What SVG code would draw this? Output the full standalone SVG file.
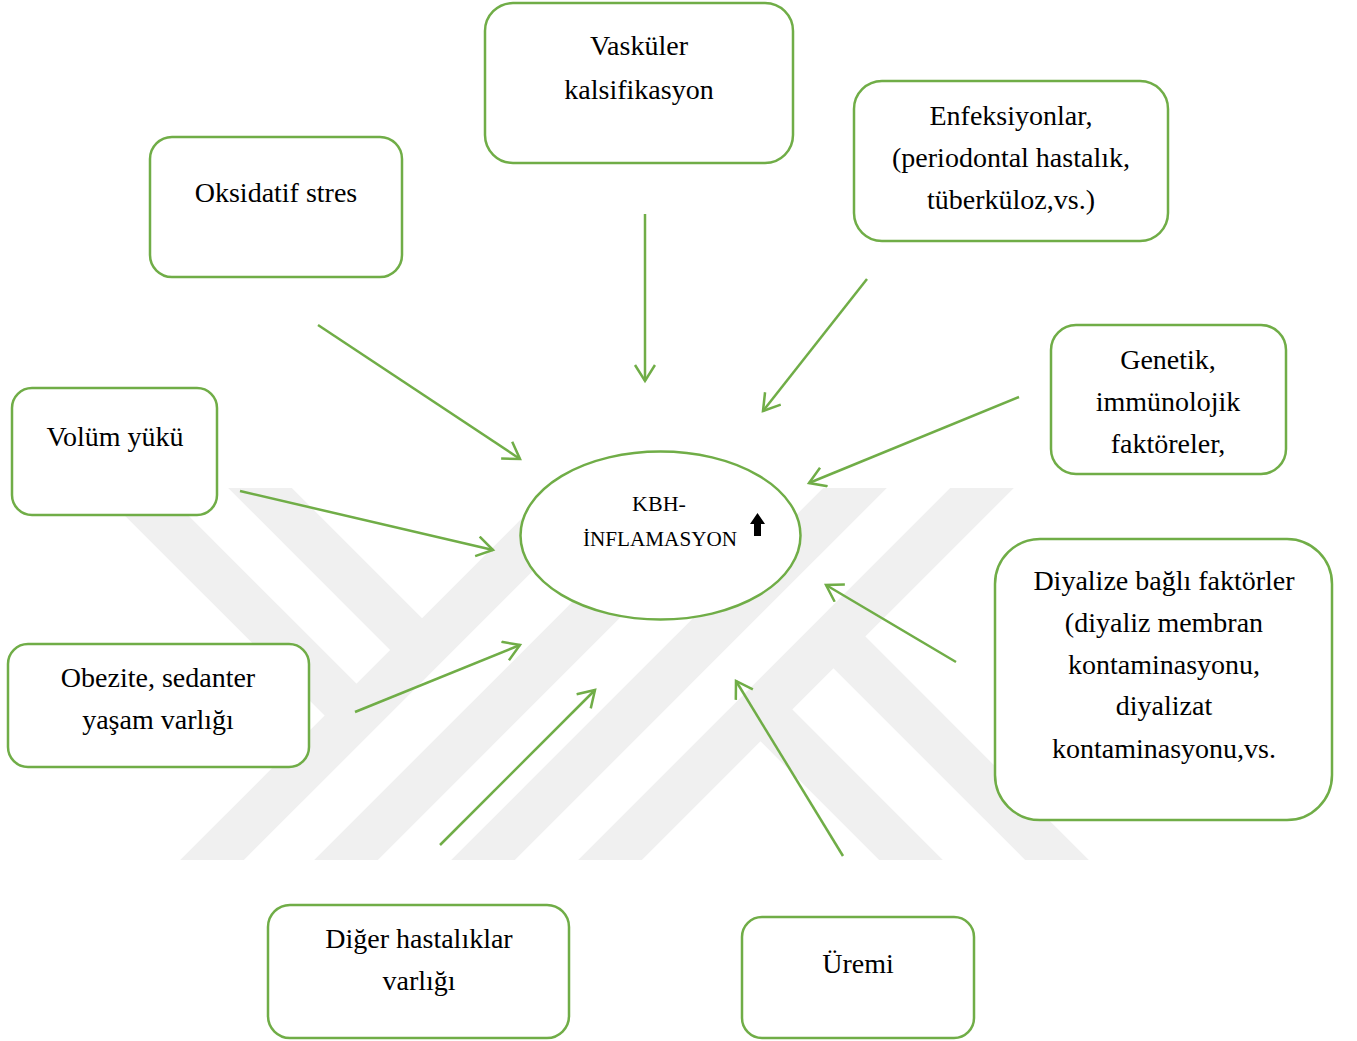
<svg xmlns="http://www.w3.org/2000/svg" width="1357" height="1041" viewBox="0 0 1357 1041">
<style>
.box{fill:#ffffff;stroke:#70ad47;stroke-width:2.5}
.t{font-family:"Liberation Serif","Times New Roman",serif;font-size:28px;fill:#000;text-anchor:middle}
.c{font-family:"Liberation Serif","Times New Roman",serif;font-size:22px;fill:#000;text-anchor:middle}
.con{stroke:#70ad47;stroke-width:2.5;fill:none;marker-end:url(#ah)}
.wm{stroke:#f0f0f0;stroke-width:45;fill:none;stroke-linecap:butt}
</style>
<defs>
<marker id="ah" markerUnits="userSpaceOnUse" markerWidth="24" markerHeight="26" refX="17" refY="11" orient="auto" viewBox="0 0 24 26">
<path d="M1,1 L17,11 L1,21" fill="none" stroke="#70ad47" stroke-width="2.5"/>
</marker>
<clipPath id="wmclip"><rect x="0" y="488" width="1357" height="372"/></clipPath>
</defs>
<rect width="1357" height="1041" fill="#ffffff"/>
<g id="watermark" clip-path="url(#wmclip)">
<line class="wm" x1="99" y1="458" x2="356" y2="715"/>
<line class="wm" x1="232" y1="460" x2="422" y2="650"/>
<line class="wm" x1="632" y1="440" x2="172" y2="900"/>
<line class="wm" x1="766" y1="440" x2="306" y2="900"/>
<line class="wm" x1="903" y1="440" x2="443" y2="900"/>
<line class="wm" x1="1030" y1="440" x2="570" y2="900"/>
<line class="wm" x1="760.5" y1="709.5" x2="951" y2="900"/>
<line class="wm" x1="833.5" y1="636.5" x2="1097" y2="900"/>
</g>
<g id="connectors">
<line class="con" x1="318" y1="325" x2="520" y2="459"/>
<line class="con" x1="645" y1="214" x2="645" y2="381"/>
<line class="con" x1="867" y1="279" x2="763" y2="411"/>
<line class="con" x1="1019" y1="397" x2="809" y2="483"/>
<line class="con" x1="240" y1="491" x2="493" y2="550"/>
<line class="con" x1="355" y1="712" x2="520" y2="645"/>
<line class="con" x1="440" y1="845" x2="595" y2="690"/>
<line class="con" x1="843" y1="856" x2="736" y2="681"/>
<line class="con" x1="956" y1="662" x2="826" y2="585"/>
</g>
<g id="center">
<ellipse class="box" cx="660.5" cy="535.5" rx="140" ry="84"/>
<text class="c" x="659" y="511">KBH-</text>
<text class="c" x="660" y="546" textLength="154" lengthAdjust="spacingAndGlyphs">İNFLAMASYON</text>
<polygon points="757.5,513 765,524 761,524 761,536 754,536 754,524 750,524" fill="#000"/>
</g>
<g id="oksidatif">
<rect class="box" x="150" y="137" width="252" height="140" rx="22"/>
<text class="t" x="276" y="202">Oksidatif stres</text>
</g>
<g id="vaskuler">
<rect class="box" x="485" y="3" width="308" height="160" rx="28"/>
<text class="t" x="639" y="55">Vasküler</text>
<text class="t" x="639" y="99">kalsifikasyon</text>
</g>
<g id="enfeksiyon">
<rect class="box" x="854" y="81" width="314" height="160" rx="28"/>
<text class="t" x="1011" y="125">Enfeksiyonlar,</text>
<text class="t" x="1011" y="167">(periodontal hastalık,</text>
<text class="t" x="1011" y="209">tüberküloz,vs.)</text>
</g>
<g id="genetik">
<rect class="box" x="1051" y="325" width="235" height="149" rx="25"/>
<text class="t" x="1168" y="369">Genetik,</text>
<text class="t" x="1168" y="411">immünolojik</text>
<text class="t" x="1168" y="453">faktöreler,</text>
</g>
<g id="volum">
<rect class="box" x="12" y="388" width="205" height="127" rx="20"/>
<text class="t" x="115" y="446">Volüm yükü</text>
</g>
<g id="obezite">
<rect class="box" x="8" y="644" width="301" height="123" rx="20"/>
<text class="t" x="158" y="687">Obezite, sedanter</text>
<text class="t" x="158" y="729">yaşam varlığı</text>
</g>
<g id="diyaliz">
<rect class="box" x="995" y="539" width="337" height="281" rx="45"/>
<text class="t" x="1164" y="590">Diyalize bağlı faktörler</text>
<text class="t" x="1164" y="632">(diyaliz membran</text>
<text class="t" x="1164" y="674">kontaminasyonu,</text>
<text class="t" x="1164" y="715">diyalizat</text>
<text class="t" x="1164" y="758">kontaminasyonu,vs.</text>
</g>
<g id="diger">
<rect class="box" x="268" y="905" width="301" height="133" rx="22"/>
<text class="t" x="419" y="948">Diğer hastalıklar</text>
<text class="t" x="419" y="990">varlığı</text>
</g>
<g id="uremi">
<rect class="box" x="742" y="917" width="232" height="121" rx="20"/>
<text class="t" x="858" y="973">Üremi</text>
</g>
</svg>
